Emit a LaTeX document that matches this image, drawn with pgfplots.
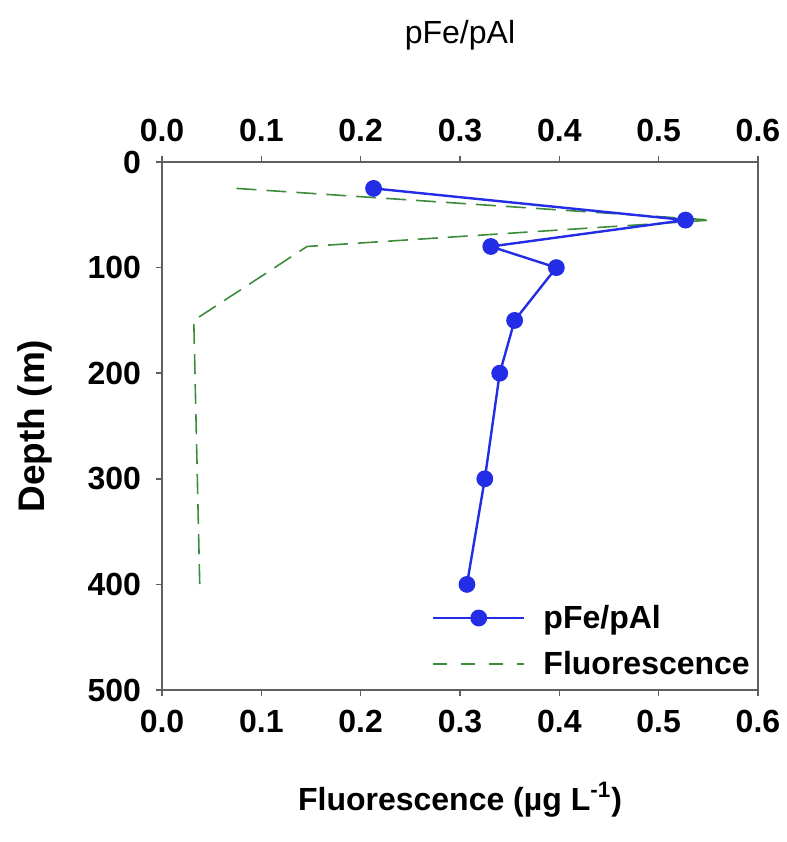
\documentclass[border=0pt]{standalone}
\usepackage{fontspec}
\setmainfont{Liberation Sans}
\usepackage{pgfplots}
\pgfplotsset{compat=1.18}
\definecolor{fblue}{RGB}{35,45,230}
\definecolor{fgreen}{RGB}{60,140,60}
\definecolor{axgray}{RGB}{95,95,95}
\pgfplotsset{
  common/.style={
    scale only axis, width=298pt, height=264pt,
    at={(0,0)}, anchor=south west,
    xmin=0, xmax=0.6, ymin=0, ymax=500, y dir=reverse,
    /pgf/number format/assume math mode=true,
    tick label style={font=\fontsize{16}{19}\selectfont\bfseries},
    xticklabel shift=3.5pt, yticklabel shift=4pt,
    tick align=outside,
    major tick style={axgray, line width=0.8pt},
    major tick length=3pt,
    axis line style={axgray, line width=1.1pt},
    xtick={0,0.1,0.2,0.3,0.4,0.5,0.6},
    xticklabel style={/pgf/number format/.cd, fixed, fixed zerofill, precision=1},
    clip=false,
  }
}
\begin{document}
\begin{tikzpicture}
\useasboundingbox (-81pt,-76pt) rectangle (312.5pt,345pt);
\begin{axis}[common,
  axis x line*=bottom, axis y line*=left,
  ytick={0,100,200,300,400,500},
  xlabel={\bfseries Fluorescence (µg L\textsuperscript{-1})},
  xlabel style={font=\fontsize{16}{19}\selectfont, at={(axis description cs:0.5,-0.208)}, anchor=center},
  ylabel={\bfseries Depth (m)},
  ylabel style={font=\fontsize{18.5}{22}\selectfont, at={(axis description cs:-0.213,0.5)}, anchor=center, rotate=0},
]
\addplot[fgreen, line width=0.8pt, dash pattern=on 10pt off 5pt] coordinates {
  (0.075,25) (0.553,55) (0.146,80) (0.032,150) (0.038,400)
};
\end{axis}
\begin{axis}[common,
  axis x line*=top, axis y line*=right, ytick=\empty,
  xlabel={pFe/pAl},
  xlabel style={font=\fontsize{16}{19}\selectfont, at={(axis description cs:0.5,1.2405)}, anchor=center},
  legend style={draw=none, fill=none, at={(axis description cs:0.997,0.012)}, anchor=south east,
    font=\fontsize{16}{19}\selectfont\bfseries, legend cell align=left, row sep=6pt,
    inner sep=1pt, /tikz/every odd column/.append style={column sep=7pt}},
  legend image code/.code={\draw[mark repeat=2,mark phase=2,#1] plot coordinates {(0cm,0cm) (0.8cm,0cm) (1.6cm,0cm)};},
]
\addplot[fblue, line width=1.2pt, mark=*, mark size=3.6pt, mark options={fill=fblue, draw=fblue}] coordinates {
  (0.213,25) (0.527,55) (0.331,80) (0.397,100) (0.355,150) (0.340,200) (0.325,300) (0.307,400)
};
\addlegendentry{pFe/pAl}
\addlegendimage{fgreen, line width=0.8pt, dash pattern=on 7pt off 7pt}
\addlegendentry{Fluorescence}
\end{axis}
\end{tikzpicture}
\end{document}
